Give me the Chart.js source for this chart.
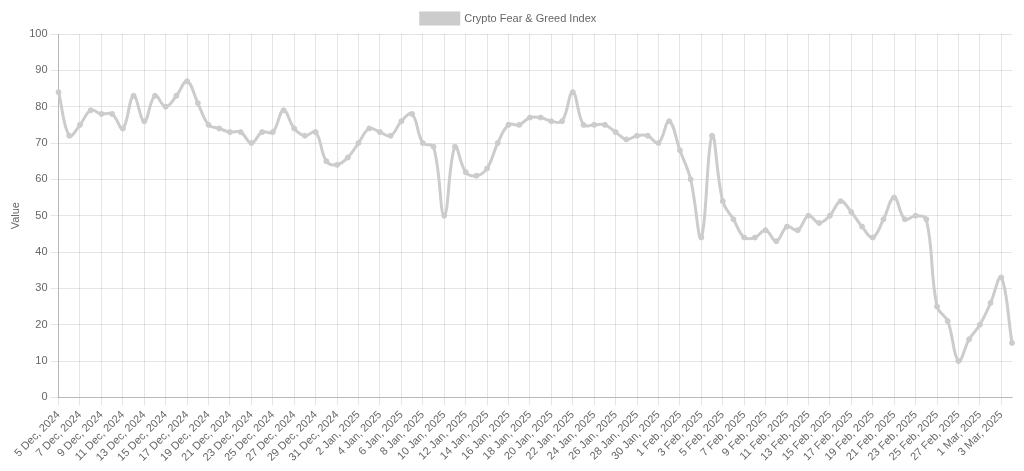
<!DOCTYPE html>
<html>
<head>
    <meta charset="utf-8" />
    <title>Crypto Fear & Greed Index</title>
    <script src="https://cdn.jsdelivr.net/npm/chart.js"></script>
    <style>
        html, body { margin: 0; padding: 0; background: #fff; }
        #wrap { width: 1024px; height: 471px; }
    </style>
</head>
<body>
    <div id="wrap"><canvas id="chart"></canvas></div>
    <script>
        // dates, one per day
        var labels = [
            '5 Dec, 2024','6 Dec, 2024','7 Dec, 2024','8 Dec, 2024','9 Dec, 2024','10 Dec, 2024','11 Dec, 2024','12 Dec, 2024',
            '13 Dec, 2024','14 Dec, 2024','15 Dec, 2024','16 Dec, 2024','17 Dec, 2024','18 Dec, 2024','19 Dec, 2024','20 Dec, 2024',
            '21 Dec, 2024','22 Dec, 2024','23 Dec, 2024','24 Dec, 2024','25 Dec, 2024','26 Dec, 2024','27 Dec, 2024','28 Dec, 2024',
            '29 Dec, 2024','30 Dec, 2024','31 Dec, 2024','1 Jan, 2025','2 Jan, 2025','3 Jan, 2025','4 Jan, 2025','5 Jan, 2025',
            '6 Jan, 2025','7 Jan, 2025','8 Jan, 2025','9 Jan, 2025','10 Jan, 2025','11 Jan, 2025','12 Jan, 2025','13 Jan, 2025',
            '14 Jan, 2025','15 Jan, 2025','16 Jan, 2025','17 Jan, 2025','18 Jan, 2025','19 Jan, 2025','20 Jan, 2025','21 Jan, 2025',
            '22 Jan, 2025','23 Jan, 2025','24 Jan, 2025','25 Jan, 2025','26 Jan, 2025','27 Jan, 2025','28 Jan, 2025','29 Jan, 2025',
            '30 Jan, 2025','31 Jan, 2025','1 Feb, 2025','2 Feb, 2025','3 Feb, 2025','4 Feb, 2025','5 Feb, 2025','6 Feb, 2025',
            '7 Feb, 2025','8 Feb, 2025','9 Feb, 2025','10 Feb, 2025','11 Feb, 2025','12 Feb, 2025','13 Feb, 2025','14 Feb, 2025',
            '15 Feb, 2025','16 Feb, 2025','17 Feb, 2025','18 Feb, 2025','19 Feb, 2025','20 Feb, 2025','21 Feb, 2025','22 Feb, 2025',
            '23 Feb, 2025','24 Feb, 2025','25 Feb, 2025','26 Feb, 2025','27 Feb, 2025','28 Feb, 2025','1 Mar, 2025','2 Mar, 2025',
            '3 Mar, 2025','4 Mar, 2025'
        ];

        var values = [
            84, 72, 75, 79, 78, 78, 74, 83,
            76, 83, 80, 83, 87, 81, 75, 74,
            73, 73, 70, 73, 73, 79, 74, 72,
            73, 65, 64, 66, 70, 74, 73, 72,
            76, 78, 70, 69, 50, 69, 62, 61,
            63, 70, 75, 75, 77, 77, 76, 76,
            84, 75, 75, 75, 73, 71, 72, 72,
            70, 76, 68, 60, 44, 72, 54, 49,
            44, 44, 46, 43, 47, 46, 50, 48,
            50, 54, 51, 47, 44, 49, 55, 49,
            50, 49, 25, 21, 10, 16, 20, 26,
            33, 15
        ];

        var lineColor = 'rgba(204, 204, 204, 1)';

        Chart.defaults.font.family = '"Liberation Sans", Arial, sans-serif';
        Chart.defaults.font.size = 11;

        new Chart(document.getElementById('chart'), {
            type: 'line',
            data: {
                labels: labels,
                datasets: [{
                    label: 'Crypto Fear & Greed Index',
                    data: values,
                    borderColor: lineColor,
                    backgroundColor: lineColor,
                    borderWidth: 3,
                    pointRadius: 2.5,
                    pointBorderWidth: 1,
                    tension: 0.4,
                    fill: false
                }]
            },
            options: {
                responsive: true,
                maintainAspectRatio: false,
                animation: false,
                layout: {
                    padding: { top: 3, right: 12, left: 5, bottom: 4 }
                },
                plugins: {
                    legend: {
                        labels: { boxWidth: 38, boxHeight: 11 }
                    }
                },
                scales: {
                    y: {
                        min: 0,
                        max: 100,
                        ticks: { stepSize: 10 },
                        border: { color: 'rgba(0, 0, 0, 0.2)' },
                        title: { display: true, text: 'Value' }
                    },
                    x: {
                        border: { color: 'rgba(0, 0, 0, 0.2)' },
                        ticks: { autoSkipPadding: 0, minRotation: 45, maxRotation: 45 }
                    }
                }
            }
        });
    </script>
</body>
</html>
